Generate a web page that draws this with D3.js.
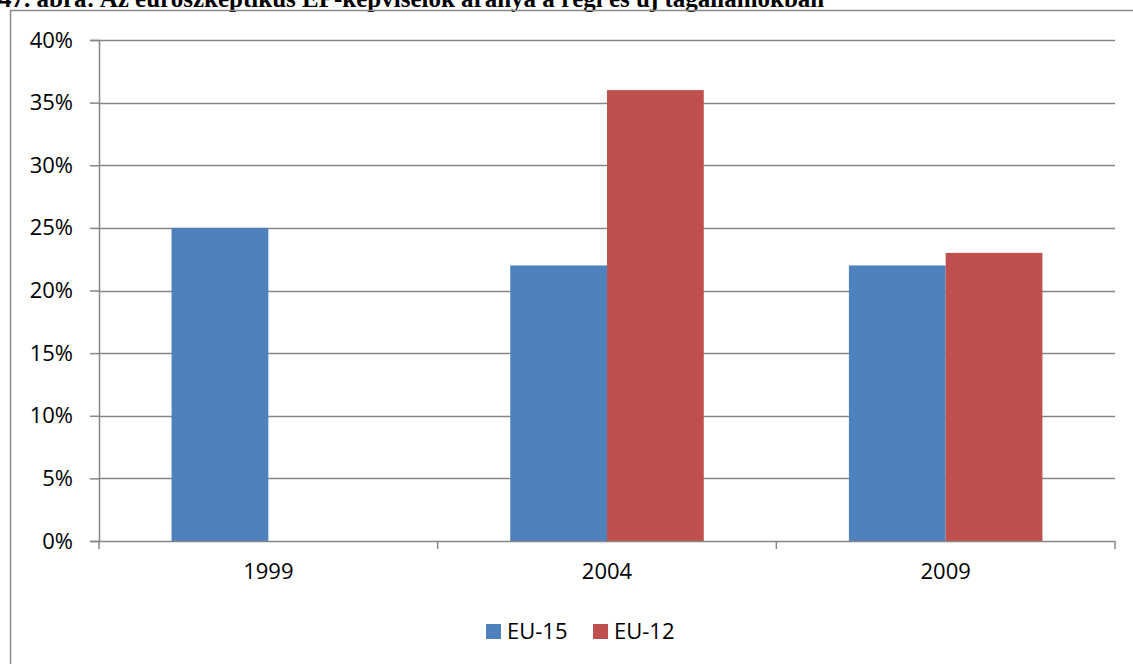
<!DOCTYPE html>
<html>
<head>
<meta charset="utf-8">
<script src="https://cdn.jsdelivr.net/npm/d3@7"></script>
<style>
  body { margin: 0; background: #fff; }
  svg { display: block; }
</style>
</head>
<body>
<script>
// data
var years = ["1999", "2004", "2009"];
var seriesNames = ["EU-15", "EU-12"];
var eu15 = [0.25, 0.22, 0.22];
var eu12 = [null, 0.36, 0.23];
var yTicks = [0, 0.05, 0.10, 0.15, 0.20, 0.25, 0.30, 0.35, 0.40];
var colors = ["#4F81BD", "#C0504D"];
var titleText = "47. ábra: Az euroszkeptikus EP-képviselők aránya a régi és új tagállamokban";

const SvgWidth = 1133, SvgHeight = 664;
var plot = {left: 99, right: 1115, top: 40, bottom: 541};

var svg = d3.select("body").append("svg")
  .attr("width", SvgWidth)
  .attr("height", SvgHeight);

// title sits above the frame and is cut by the page top, as in the source
svg.append("text")
  .attr("x", -1)
  .attr("y", 7)
  .attr("font-family", "Liberation Serif, Times New Roman, serif")
  .attr("font-weight", "bold")
  .attr("font-size", 25)
  .attr("fill", "#000")
  .text(titleText);

// chart frame
svg.append("rect")
  .attr("x", 10.5).attr("y", 10.5)
  .attr("width", 1140).attr("height", 700)
  .attr("fill", "none")
  .attr("stroke", "#8a8a8a")
  .attr("stroke-width", 1.5);

var x = d3.scaleBand().domain(years).range([plot.left, plot.right]).padding(0);
var C = x.bandwidth();
var gap = C * 1.5 / 3.5;
var xs = d3.scaleBand().domain(seriesNames).range([gap / 2, C - gap / 2]).padding(0);
var y = d3.scaleLinear().domain([0, 0.40]).range([plot.bottom, plot.top]);

var font = "Open Sans, sans-serif";

// gridlines
svg.append("g")
  .selectAll("line")
  .data(yTicks.slice(1))
  .enter().append("line")
  .attr("x1", plot.left).attr("x2", plot.right)
  .attr("y1", function(d) { return Math.round(y(d)) + 0.5; })
  .attr("y2", function(d) { return Math.round(y(d)) + 0.5; })
  .attr("stroke", "#868686")
  .attr("stroke-width", 1.5);

// bars
var rows = years.map(function(yr, i) {
  return [{s: seriesNames[0], v: eu15[i], yr: yr}, {s: seriesNames[1], v: eu12[i], yr: yr}];
});
svg.append("g")
  .selectAll("g")
  .data(rows)
  .enter().append("g")
  .attr("transform", function(d) { return "translate(" + x(d[0].yr) + ",0)"; })
  .selectAll("rect")
  .data(function(d) { return d.filter(function(e) { return e.v != null; }); })
  .enter().append("rect")
  .attr("x", function(d) { return xs(d.s); })
  .attr("width", xs.bandwidth())
  .attr("y", function(d) { return y(d.v); })
  .attr("height", function(d) { return y(0) - y(d.v); })
  .attr("fill", function(d) { return colors[seriesNames.indexOf(d.s)]; });

// y axis
var yAxis = svg.append("g")
  .attr("transform", "translate(" + plot.left + ",0)")
  .call(d3.axisLeft(y).tickValues(yTicks).tickFormat(d3.format(".0%")).tickSize(9).tickPadding(17));
yAxis.select(".domain").attr("stroke", "#868686").attr("stroke-width", 1.5);
yAxis.selectAll(".tick line").attr("stroke", "#868686").attr("stroke-width", 1.5);
yAxis.selectAll("text").attr("font-family", font).attr("font-size", 22).attr("fill", "#000");

// x axis with ticks at category boundaries
var xAxis = svg.append("g")
  .attr("transform", "translate(0," + plot.bottom + ")")
  .call(d3.axisBottom(x).tickSize(0).tickPadding(22));
xAxis.select(".domain").attr("stroke", "#868686").attr("stroke-width", 1.5);
xAxis.selectAll("text").attr("font-family", font).attr("font-size", 22).attr("fill", "#000");
xAxis.selectAll(".bound")
  .data(x.domain().concat(["end"]))
  .enter().append("line")
  .attr("class", "bound")
  .attr("x1", function(d, i) { return plot.left + i * C; })
  .attr("x2", function(d, i) { return plot.left + i * C; })
  .attr("y1", 0).attr("y2", 8)
  .attr("stroke", "#868686")
  .attr("stroke-width", 1.5);

// legend
var legend = svg.append("g").attr("transform", "translate(486,624)");
var items = legend.selectAll("g")
  .data(seriesNames)
  .enter().append("g")
  .attr("transform", function(d, i) { return "translate(" + (i * 107) + ",0)"; });
items.append("rect")
  .attr("width", 15).attr("height", 15)
  .attr("fill", function(d, i) { return colors[i]; });
items.append("text")
  .attr("x", 21).attr("y", 7.5)
  .attr("dy", "0.35em")
  .attr("font-family", font)
  .attr("font-size", 22)
  .attr("fill", "#000")
  .text(function(d) { return d; });
</script>
</body>
</html>
